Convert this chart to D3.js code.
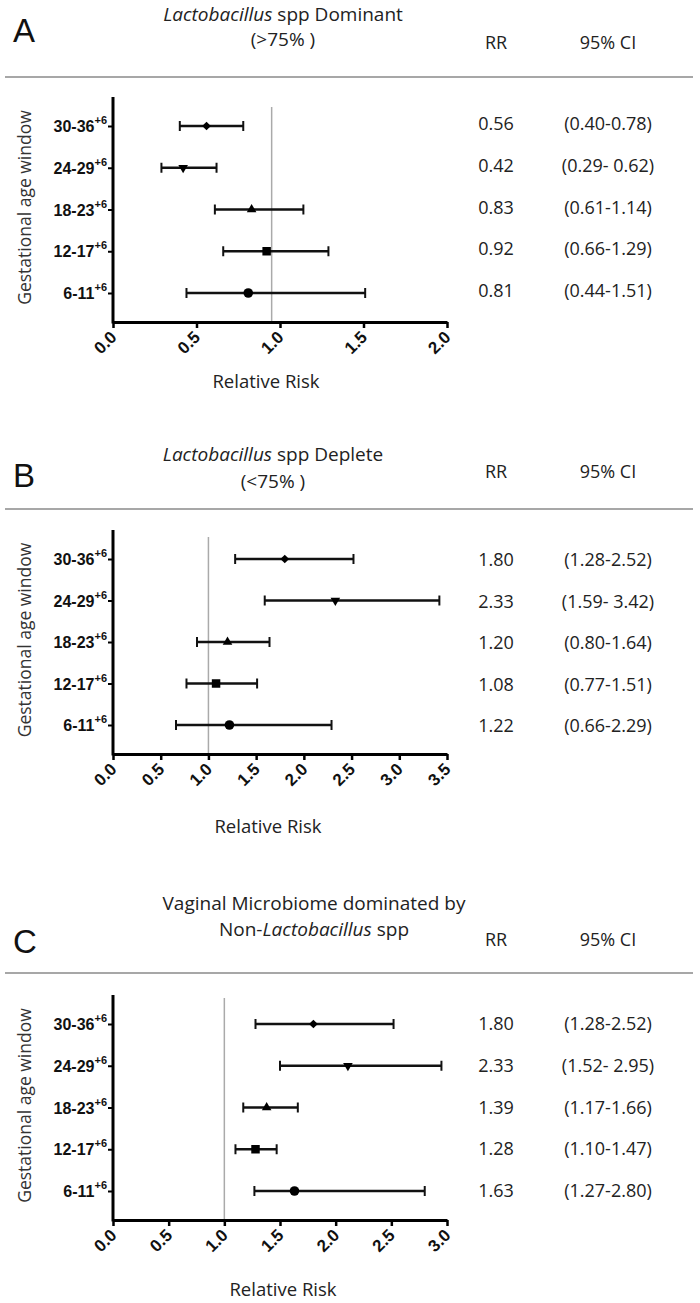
<!DOCTYPE html>
<html>
<head>
<meta charset="utf-8">
<script src="https://cdn.jsdelivr.net/npm/d3@7"></script>
<style>
  body { margin: 0; background: #fff; }
  .head { font-family: "Open Sans", sans-serif; font-size: 18px; fill: #222; }
  .rowlab { font-family: "Liberation Sans", Arial, sans-serif; font-weight: bold; font-size: 16px; fill: #111; }
</style>
</head>
<body>
<div id="chart"></div>
<script>
// rows, top to bottom
var windows = ["30-36", "24-29", "18-23", "12-17", "6-11"];

// A: Lactobacillus dominant
var aRR = [0.56, 0.42, 0.83, 0.92, 0.81];
var aLow = [0.40, 0.29, 0.61, 0.66, 0.44];
var aHigh = [0.78, 0.62, 1.14, 1.29, 1.51];
var aRRText = ["0.56", "0.42", "0.83", "0.92", "0.81"];
var aCIText = ["(0.40-0.78)", "(0.29- 0.62)", "(0.61-1.14)", "(0.66-1.29)", "(0.44-1.51)"];
var aTicks = [0, 0.5, 1, 1.5, 2];
var aRef = 0.95;

// B: Lactobacillus deplete
var bRR = [1.80, 2.33, 1.20, 1.08, 1.22];
var bLow = [1.28, 1.59, 0.88, 0.77, 0.66];
var bHigh = [2.52, 3.42, 1.64, 1.51, 2.29];
var bRRText = ["1.80", "2.33", "1.20", "1.08", "1.22"];
var bCIText = ["(1.28-2.52)", "(1.59- 3.42)", "(0.80-1.64)", "(0.77-1.51)", "(0.66-2.29)"];
var bTicks = [0, 0.5, 1, 1.5, 2, 2.5, 3, 3.5];
var bRef = 1;

// C: non-Lactobacillus dominated
var cRR = [1.80, 2.11, 1.38, 1.28, 1.63];
var cLow = [1.28, 1.50, 1.17, 1.10, 1.27];
var cHigh = [2.52, 2.95, 1.66, 1.47, 2.80];
var cRRText = ["1.80", "2.33", "1.39", "1.28", "1.63"];
var cCIText = ["(1.28-2.52)", "(1.52- 2.95)", "(1.17-1.66)", "(1.10-1.47)", "(1.27-2.80)"];
var cTicks = [0, 0.5, 1, 1.5, 2, 2.5, 3];
var cRef = 1;

var svgWidth = 700;
var svgHeight = 1303;

var svg = d3.select("#chart")
  .append("svg")
  .attr("width", svgWidth)
  .attr("height", svgHeight);

var plotLeft = 113;
var plotRight = 447;
var rrX = 496;
var ciX = 608;

// marker for each row
var markers = [
  d3.symbol().type(d3.symbolSquare).size(38),
  d3.symbol().type(d3.symbolTriangle).size(40),
  d3.symbol().type(d3.symbolTriangle).size(40),
  d3.symbol().type(d3.symbolSquare).size(72),
  d3.symbol().type(d3.symbolCircle).size(72)
];
var markerRotate = [45, 180, 0, 0, 0];

function drawPanel(p) {
  var g = svg.append("g");

  // panel letter
  g.append("text")
    .attr("x", 13)
    .attr("y", p.letterY)
    .style("font-family", "Liberation Sans, Arial, sans-serif")
    .style("font-size", "33px")
    .style("fill", "#111")
    .text(p.letter);

  // title, two lines, with italic genus
  p.title.forEach(function(line, i) {
    var t = g.append("text")
      .attr("class", "head")
      .attr("x", p.titleX)
      .attr("y", p.titleY[i])
      .attr("text-anchor", "middle")
      .style("font-size", "19px");
    line.forEach(function(part) {
      t.append("tspan")
        .style("font-style", part.it ? "italic" : "normal")
        .text(part.t);
    });
  });

  g.append("text").attr("class", "head")
    .attr("x", rrX).attr("y", p.headY)
    .attr("text-anchor", "middle").text("RR");
  g.append("text").attr("class", "head")
    .attr("x", ciX).attr("y", p.headY)
    .attr("text-anchor", "middle").text("95% CI");

  g.append("line")
    .attr("x1", 5).attr("x2", 693)
    .attr("y1", p.sepY).attr("y2", p.sepY)
    .attr("stroke", "#8a8a8a")
    .attr("stroke-width", 1.5);

  var x = d3.scaleLinear()
    .domain([0, p.ticks[p.ticks.length - 1]])
    .range([plotLeft, plotRight]);

  var y = d3.scalePoint()
    .domain(windows)
    .range([p.top + 29, p.bottom - 29]);

  // reference line
  g.append("line")
    .attr("x1", x(p.ref)).attr("x2", x(p.ref))
    .attr("y1", p.refTop).attr("y2", p.bottom)
    .attr("stroke", "#aaa")
    .attr("stroke-width", 1.5);

  // x axis
  var xAxis = g.append("g")
    .attr("transform", `translate(0, ${p.bottom})`)
    .call(d3.axisBottom(x).tickValues(p.ticks).tickFormat(d3.format(".1f")).tickSize(6).tickSizeOuter(0));
  xAxis.select(".domain").attr("stroke", "#000").attr("stroke-width", 3);
  xAxis.selectAll(".tick line").attr("stroke", "#000").attr("stroke-width", 2.5);
  xAxis.selectAll(".tick text")
    .attr("text-anchor", "end")
    .attr("transform", "translate(0, 12) rotate(-45)")
    .attr("dy", "0.35em")
    .attr("y", 0)
    .style("font-family", "Liberation Sans, Arial, sans-serif")
    .style("font-size", "17px")
    .style("font-weight", "bold")
    .style("fill", "#111");

  // y axis
  var yAxis = g.append("g")
    .attr("transform", `translate(${plotLeft}, 0)`)
    .call(d3.axisLeft(y).tickSize(5).tickSizeOuter(0).tickFormat(""));
  yAxis.select(".domain")
    .attr("d", `M0,${p.top}V${p.bottom + 1.5}`)
    .attr("stroke", "#000").attr("stroke-width", 3);
  yAxis.selectAll(".tick line").attr("stroke", "#000").attr("stroke-width", 2);

  // row labels with +6 superscript
  windows.forEach(function(w) {
    var t = g.append("text")
      .attr("class", "rowlab")
      .attr("x", plotLeft - 6)
      .attr("y", y(w) + 6)
      .attr("text-anchor", "end");
    t.append("tspan").text(w);
    t.append("tspan")
      .attr("dy", -8)
      .style("font-size", "11px")
      .text("+6");
  });

  g.append("text")
    .attr("transform", `translate(31, ${(p.top + p.bottom) / 2 - 2}) rotate(-90)`)
    .attr("text-anchor", "middle")
    .style("font-family", "Open Sans, sans-serif")
    .style("font-size", "17.5px")
    .style("fill", "#333")
    .text("Gestational age window");

  g.append("text")
    .attr("class", "head")
    .attr("x", p.labelX)
    .attr("y", p.labelY)
    .attr("text-anchor", "middle")
    .style("font-size", "18.5px")
    .text("Relative Risk");

  // error bars
  var rows = g.selectAll(".row")
    .data(windows)
    .enter()
    .append("g");

  rows.append("line")
    .attr("x1", (d, i) => x(p.low[i]))
    .attr("x2", (d, i) => x(p.high[i]))
    .attr("y1", d => y(d))
    .attr("y2", d => y(d))
    .attr("stroke", "#111")
    .attr("stroke-width", 2.5);

  rows.append("line")
    .attr("x1", (d, i) => x(p.low[i]))
    .attr("x2", (d, i) => x(p.low[i]))
    .attr("y1", d => y(d) - 5)
    .attr("y2", d => y(d) + 5)
    .attr("stroke", "#111")
    .attr("stroke-width", 2);

  rows.append("line")
    .attr("x1", (d, i) => x(p.high[i]))
    .attr("x2", (d, i) => x(p.high[i]))
    .attr("y1", d => y(d) - 5)
    .attr("y2", d => y(d) + 5)
    .attr("stroke", "#111")
    .attr("stroke-width", 2);

  rows.append("path")
    .attr("d", (d, i) => markers[i]())
    .attr("transform", (d, i) => `translate(${x(p.rr[i])}, ${y(d)}) rotate(${markerRotate[i]})`)
    .attr("fill", "#000");

  // RR / CI table
  rows.append("text")
    .attr("class", "head")
    .attr("x", rrX)
    .attr("y", d => y(d) + p.textDy)
    .attr("text-anchor", "middle")
    .text((d, i) => p.rrText[i]);

  rows.append("text")
    .attr("class", "head")
    .attr("x", ciX)
    .attr("y", d => y(d) + p.textDy)
    .attr("text-anchor", "middle")
    .text((d, i) => p.ciText[i]);
}

drawPanel({
  letter: "A",
  title: [[{t: "Lactobacillus", it: true}, {t: " spp Dominant"}], [{t: "(>75% )"}]],
  titleX: 283, titleY: [21, 46], letterY: 42, headY: 49, sepY: 77,
  top: 97, bottom: 322, refTop: 107, labelX: 266, labelY: 388, textDy: 4,
  ticks: aTicks, ref: aRef,
  rr: aRR, low: aLow, high: aHigh, rrText: aRRText, ciText: aCIText
});

drawPanel({
  letter: "B",
  title: [[{t: "Lactobacillus", it: true}, {t: " spp Deplete"}], [{t: "(<75% )"}]],
  titleX: 273, titleY: [461, 488], letterY: 487, headY: 478, sepY: 509,
  top: 530, bottom: 754, refTop: 537, labelX: 268, labelY: 833, textDy: 7,
  ticks: bTicks, ref: bRef,
  rr: bRR, low: bLow, high: bHigh, rrText: bRRText, ciText: bCIText
});

drawPanel({
  letter: "C",
  title: [[{t: "Vaginal Microbiome dominated by"}], [{t: "Non-"}, {t: "Lactobacillus", it: true}, {t: " spp"}]],
  titleX: 314, titleY: [910, 936], letterY: 953, headY: 946, sepY: 973,
  top: 995, bottom: 1220, refTop: 998, labelX: 283, labelY: 1296, textDy: 6,
  ticks: cTicks, ref: cRef,
  rr: cRR, low: cLow, high: cHigh, rrText: cRRText, ciText: cCIText
});
</script>
</body>
</html>
